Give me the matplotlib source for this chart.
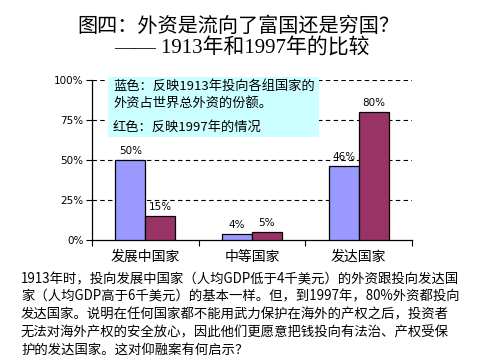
import matplotlib
matplotlib.use("Agg")
import matplotlib.pyplot as plt
from matplotlib.patches import Rectangle
import numpy as np

plt.rcParams['font.family'] = ['Noto Sans CJK SC', 'DejaVu Sans']

categories = ['发展中国家', '中等国家', '发达国家']
share_1913 = [50, 4, 46]
share_1997 = [15, 5, 80]
y_ticks = [0, 25, 50, 75, 100]
y_tick_labels = ['0%', '25%', '50%', '75%', '100%']

title1 = '图四：外资是流向了富国还是穷国？'
title2 = '—— 1913年和1997年的比较'
legend_lines = ['蓝色：反映1913年投向各组国家的', '外资占世界总外资的份额。', '红色：反映1997年的情况']
body = ['1913年时，投向发展中国家（人均GDP低于4千美元）的外资跟投向发达国',
        '家（人均GDP高于6千美元）的基本一样。但，到1997年，80%外资都投向',
        '发达国家。说明在任何国家都不能用武力保护在海外的产权之后，投资者',
        '无法对海外产权的安全放心，因此他们更愿意把钱投向有法治、产权受保',
        '护的发达国家。这对仰融案有何启示？']

W, H = 480, 360
fig = plt.figure(figsize=(4.8, 3.6), dpi=100)
fig.patch.set_facecolor('white')

ax = fig.add_axes([92 / W, 1 - 240 / H, 320 / W, 160 / H])
x = np.arange(len(categories))
bw = 0.28
b1 = ax.bar(x - bw / 2, share_1913, bw, color='#9999FF', edgecolor='black', linewidth=0.9, zorder=3)
b2 = ax.bar(x + bw / 2, share_1997, bw, color='#993366', edgecolor='black', linewidth=0.9, zorder=3)
for bars, vals in ((b1, share_1913), (b2, share_1997)):
    for r, v in zip(bars, vals):
        ax.text(r.get_x() + r.get_width() / 2, v + 2.5, f'{v}%', ha='center', va='bottom',
                fontsize=7.5, family='DejaVu Sans', zorder=4)

ax.set_xlim(-0.5, 2.5)
ax.set_ylim(0, 100)
ax.set_yticks(y_ticks)
ax.set_yticklabels(y_tick_labels, fontsize=7.5, family='DejaVu Sans')
ax.set_xticks([-0.5, 0.5, 1.5, 2.5])
ax.set_xticklabels([])
ax.set_xticks(x, minor=True)
ax.set_xticklabels(categories, minor=True, fontsize=10)
ax.tick_params(axis='x', which='minor', length=0, pad=7)
ax.tick_params(axis='x', which='major', length=4, direction='out')
ax.tick_params(axis='y', length=4, direction='out', pad=2)
for yv in y_ticks[1:]:
    ax.axhline(yv, color='black', linestyle=(0, (4, 3)), linewidth=0.8, zorder=1)
ax.spines['top'].set_visible(False)
ax.spines['right'].set_visible(False)
ax.spines['left'].set_linewidth(0.9)
ax.spines['bottom'].set_linewidth(0.9)

# legend note box
fig.patches.append(Rectangle((108 / W, 1 - 137 / H), 211 / W, 60 / H, transform=fig.transFigure,
                             facecolor='#CCFFFF', edgecolor='none', zorder=5))
for yy, t in zip([86, 103, 127], legend_lines):
    fig.text(113 / W, 1 - yy / H, t, fontsize=9.5, va='center', ha='left', zorder=6)

fig.text(238 / W, 1 - 26 / H, title1, fontsize=14.5, ha='center', va='center')
fig.text(242 / W, 1 - 48 / H, title2, fontsize=15, ha='center', va='center',
         family=['Liberation Serif', 'Noto Sans CJK SC'])

for i, t in enumerate(body):
    fig.text(21 / W, 1 - (279 + 17.8 * i) / H, t, fontsize=9.6, ha='left', va='center')

fig.savefig('out.png', dpi=100)
